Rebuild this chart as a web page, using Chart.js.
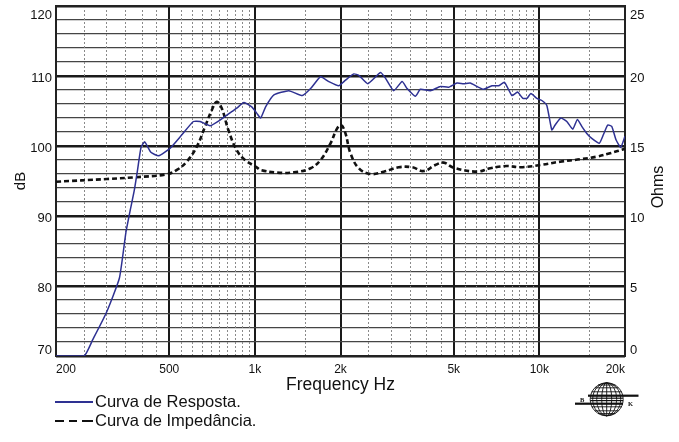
<!DOCTYPE html>
<html><head><meta charset="utf-8">
<script src="https://cdn.jsdelivr.net/npm/chart.js@4/dist/chart.umd.min.js"></script>
<style>
html,body{margin:0;padding:0;background:#fff;}
#wrap{position:relative;width:679px;height:442px;font-family:"Liberation Sans",Arial,sans-serif;overflow:hidden;}
#c{position:absolute;left:0;top:0;}
.lg{position:absolute;left:95px;font-size:16.5px;line-height:20px;height:20px;color:#111;white-space:nowrap;}
.dash{position:absolute;height:2.6px;background:#111;}
</style></head><body>
<div id="wrap">
<canvas id="c" width="679" height="442"></canvas>
<div style="position:absolute;left:55px;top:400.5px;width:38px;height:2.5px;background:#2e3192"></div>
<div class="lg" style="top:390.7px">Curva de Resposta.</div>
<div class="dash" style="left:55px;top:419.5px;width:8.5px"></div>
<div class="dash" style="left:68.5px;top:419.5px;width:8.5px"></div>
<div class="dash" style="left:82px;top:419.5px;width:11px"></div>
<div class="lg" style="top:410px">Curva de Impedância.</div>
<svg style="position:absolute;left:0;top:0" width="679" height="442" viewBox="0 0 679 442">
  <g fill="none" stroke="#111" stroke-width="0.9">
    <circle cx="606.7" cy="399.3" r="16.5"/>
    <ellipse cx="606.7" cy="399.3" rx="5" ry="16.5"/>
    <ellipse cx="606.7" cy="399.3" rx="10" ry="16.5"/>
    <ellipse cx="606.7" cy="399.3" rx="14" ry="16.5"/>
    <line x1="606.7" y1="382.8" x2="606.7" y2="415.8"/>
    <line x1="594.8" y1="387.8" x2="618.6" y2="387.8"/>
    <line x1="591.6" y1="391.8" x2="621.8" y2="391.8"/>
    <line x1="591.6" y1="406.8" x2="621.8" y2="406.8"/>
    <line x1="594.8" y1="410.8" x2="618.6" y2="410.8"/>
    <line x1="598" y1="385" x2="615.4" y2="385"/>
    <line x1="598" y1="413.6" x2="615.4" y2="413.6"/>
  </g>
  <g fill="#111">
    <rect x="588" y="394.6" width="50.5" height="2.2"/>
    <rect x="590.5" y="397.6" width="32.4" height="1.2"/>
    <rect x="590.3" y="400" width="32.8" height="1.2"/>
    <rect x="575" y="402.6" width="48" height="2.2"/>
    <text x="580" y="401.6" font-family="Liberation Serif, serif" font-weight="bold" font-size="6.5">B</text>
    <text x="628" y="405.6" font-family="Liberation Serif, serif" font-weight="bold" font-size="6.5">K</text>
  </g>
</svg>
</div>
<script>
// ---- data ----
const xTickValues = [200, 500, 1000, 2000, 5000, 10000, 20000];
const xTickLabels = ['200', '500', '1k', '2k', '5k', '10k', '20k'];
const xMinorGrid = [250,300,350,400,450,550,600,650,700,750,800,850,900,950,1500,
  2500,3000,3500,4000,4500,5500,6000,6500,7000,7500,8000,8500,9000,9500,15000];

const respFreq = [200,251,269,300,334,352,365,377,387,398,410,431,459,504,554,608,642,696,754,829,863,916,975,1015,1048,1091,1167,1317,1468,1570,1702,1819,1972,2082,2227,2319,2494,2763,2877,3076,3293,3429,3667,3817,4139,4487,4798,5135,5416,5716,6034,6365,6813,7186,7543,8009,8379,8753,9040,9337,9799,10203,10624,11060,11360,11895,12488,13107,13603,14096,14678,15284,16250,16784,17391,17964,18596,19315,20000];
const respDb = [70,70,72.3,76.1,81.1,87.6,90.9,93.7,96.6,99.8,100.6,99.1,98.6,99.7,101.6,103.5,103.5,102.9,103.7,104.9,105.4,106.2,105.6,104.7,104.0,105.6,107.3,107.9,107.2,108.2,109.9,109.2,108.6,109.4,110.3,110.1,108.9,110.5,109.7,107.9,109.2,108.2,107.1,108.1,107.9,108.5,108.4,109.0,108.9,109.0,108.5,108.1,108.6,108.6,109.1,107.2,107.7,106.8,106.8,107.5,106.8,106.5,105.8,102.3,103.0,104.0,103.5,102.4,103.8,102.8,101.8,101.1,100.4,101.6,103.0,102.8,100.9,99.8,101.4];

const impFreq = [200,302,375,490,532,576,625,668,706,735,765,807,863,923,1015,1048,1199,1372,1570,1702,1845,1947,2011,2082,2168,2319,2549,2838,3204,3570,3920,4309,4609,4995,6034,6720,7691,8561,10065,11830,13904,15912,17718,20000];
const impOhm = [12.45,12.64,12.76,12.98,13.29,13.88,14.95,16.38,17.57,18.16,17.69,16.14,14.71,14.0,13.48,13.29,13.1,13.12,13.41,14.0,15.19,16.26,16.5,15.9,14.48,13.41,13.0,13.16,13.48,13.48,13.21,13.64,13.81,13.45,13.17,13.41,13.57,13.48,13.64,13.88,14.05,14.24,14.48,14.8];

const FONT = '"Liberation Sans", Arial, sans-serif';
Chart.defaults.font.family = FONT;
Chart.defaults.color = '#111';

const extras = {
  id: 'extras',
  beforeDatasetsDraw(chart) {
    const {ctx, chartArea: a, scales: {x}} = chart;
    ctx.save();
    ctx.strokeStyle = '#8a8a8a';
    ctx.lineWidth = 1;
    ctx.setLineDash([2, 2]);
    xMinorGrid.forEach(v => {
      const px = Math.round(x.getPixelForValue(v)) + 0.5;
      ctx.beginPath(); ctx.moveTo(px, a.top); ctx.lineTo(px, a.bottom); ctx.stroke();
    });
    ctx.setLineDash([]);
    ctx.strokeStyle = '#222';
    ctx.lineWidth = 2;
    ctx.strokeRect(a.left, a.top, a.right - a.left, a.bottom - a.top);
    ctx.restore();
  },
  afterDraw(chart) {
    const {ctx, chartArea: a} = chart;
    ctx.save();
    ctx.font = '16px ' + FONT;
    ctx.fillStyle = '#111';
    ctx.textAlign = 'center';
    ctx.textBaseline = 'middle';
    ctx.translate(659, (a.top + a.bottom) / 2 + 6);
    ctx.rotate(-Math.PI / 2);
    ctx.fillText('Ohms', 0, 0);
    ctx.restore();
  }
};

new Chart(document.getElementById('c'), {
  type: 'line',
  data: {
    datasets: [
      {
        label: 'Curva de Resposta.',
        data: respFreq.map((f, i) => ({x: f, y: respDb[i]})),
        yAxisID: 'y',
        borderColor: '#2e3192',
        borderWidth: 1.5,
        pointRadius: 0,
        tension: 0.15,
        fill: false
      },
      {
        label: 'Curva de Impedância.',
        data: impFreq.map((f, i) => ({x: f, y: impOhm[i]})),
        yAxisID: 'y1',
        borderColor: '#111',
        borderWidth: 2.6,
        borderDash: [5, 3],
        pointRadius: 0,
        tension: 0.4,
        fill: false
      }
    ]
  },
  options: {
    responsive: false,
    animation: false,
    events: [],
    layout: {padding: {top: 6, bottom: 46, left: 0, right: 0}},
    plugins: {legend: {display: false}, tooltip: {enabled: false}},
    scales: {
      x: {
        type: 'logarithmic', position: 'bottom', min: 200, max: 20000,
        afterBuildTicks(s) { s.ticks = xTickValues.map(v => ({value: v})); },
        ticks: {
          autoSkip: false, maxRotation: 0, minRotation: 0, align: 'inner', padding: 6,
          font: {size: 12}, color: '#111',
          callback: (v) => { const i = xTickValues.indexOf(v); return i >= 0 ? xTickLabels[i] : ''; }
        },
        grid: {drawTicks: false, color: '#1a1a1a', lineWidth: 2},
        border: {display: false},
        title: {display: true, text: 'Frequency Hz', font: {size: 17.5}, padding: {top: 0, bottom: 0}, color: '#111'},
        afterFit(s) { s.height = 40; s.paddingLeft = 0; s.paddingRight = 0; }
      },
      y: {
        type: 'linear', position: 'left', min: 70, max: 120,
        ticks: {
          stepSize: 2, autoSkip: false, padding: 4, font: {size: 13}, color: '#111', labelOffset: 2,
          callback: (v) => v % 10 !== 0 ? '' : (v === 120 ? ['', '120'] : (v === 70 ? ['70', ''] : String(v)))
        },
        grid: {
          drawTicks: false,
          color: (c) => (c.tick && c.tick.value % 10 === 0) ? '#1a1a1a' : '#454545',
          lineWidth: (c) => (c.tick && c.tick.value % 10 === 0) ? 2.4 : 1.3
        },
        border: {display: false},
        title: {display: true, text: 'dB', font: {size: 15}, padding: {top: 12, bottom: 0}, color: '#111'},
        afterFit(s) { s.width = 56; s.paddingTop = 0; s.paddingBottom = 0; }
      },
      y1: {
        type: 'linear', position: 'right', min: 0, max: 25,
        ticks: {
          stepSize: 5, padding: 5, font: {size: 13}, color: '#111', labelOffset: 2,
          callback: (v) => v === 25 ? ['', '25'] : (v === 0 ? ['0', ''] : String(v))
        },
        grid: {display: false, drawTicks: false},
        border: {display: false},
        afterFit(s) { s.width = 54; s.paddingTop = 0; s.paddingBottom = 0; }
      }
    }
  },
  plugins: [extras]
});
</script>
</body></html>
